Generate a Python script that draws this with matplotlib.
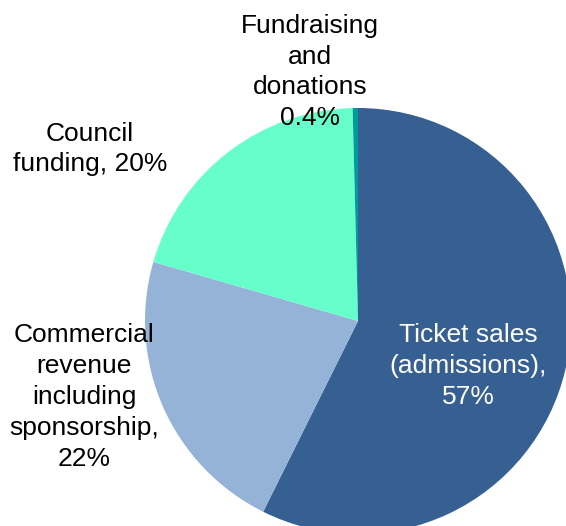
import matplotlib.pyplot as plt

plt.rcParams['font.family'] = ['Liberation Sans', 'DejaVu Sans']

# revenue shares, clockwise from 12 o'clock
sources = ['Ticket sales\n(admissions),\n57%',
           'Commercial\nrevenue\nincluding\nsponsorship,\n22%',
           'Council\nfunding, 20%',
           'Fundraising\nand\ndonations\n0.4%']
shares = [57, 22, 20, 0.4]
colors = ['#376092', '#95B3D7', '#66FFCC', '#009B9B']
text_colors = ['white', 'black', 'black', 'black']

# label anchor points in pixel space (x from left, y from top)
label_x = [468, 84, 90, 310]
label_y = [366, 397, 149, 72]

W, H = 566, 526
fig = plt.figure(figsize=(W / 100, H / 100), dpi=100)
ax = fig.add_axes([0, 0, 1, 1])

ax.pie(shares, colors=colors, startangle=90, counterclock=False,
       center=(358, H - 321), radius=213,
       wedgeprops=dict(linewidth=0))

ax.set_xlim(0, W)
ax.set_ylim(0, H)
ax.set_aspect('equal')
ax.axis('off')

for txt, x, y, c in zip(sources, label_x, label_y, text_colors):
    ax.text(x, H - y, txt, ha='center', va='center', fontsize=19,
            color=c, linespacing=1.36)

fig.savefig('out.png', dpi=100)
